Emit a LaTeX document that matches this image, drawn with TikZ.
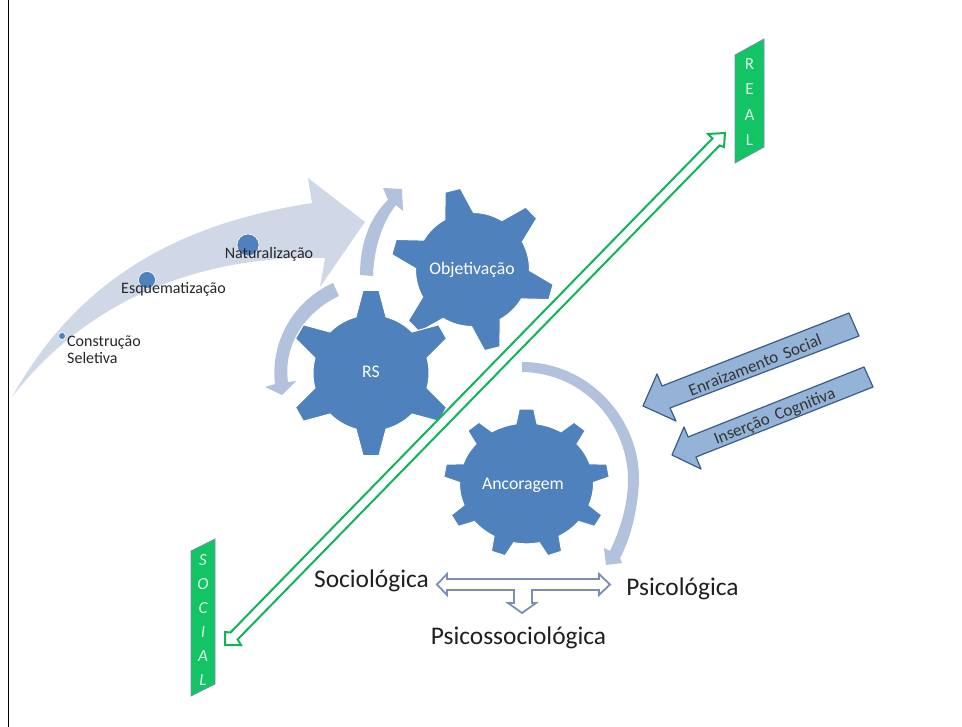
\documentclass[tikz,border=0pt]{standalone}
\usepackage{fontspec}
\setmainfont{Carlito}
\definecolor{gearblue}{HTML}{4F81BD}
\definecolor{palearrow}{HTML}{D0D8E8}
\definecolor{midarrow}{HTML}{B3C2DC}
\definecolor{bandgreen}{HTML}{12C463}
\definecolor{linegreen}{HTML}{10B558}
\definecolor{blockfill}{HTML}{95B3D7}
\definecolor{blockedge}{HTML}{385D8A}
\definecolor{tripleedge}{HTML}{7A8FB2}
\newcommand{\cogwheel}[9]{%
  \begin{scope}[shift={(#1,#2)},yscale=#3]
    \filldraw[fill=gearblue, draw=white, line width=1pt] ({#7-#8}:#4)
      \foreach \i [evaluate=\i as \t using #7+\i*360/#6] in {0,...,\numexpr#6-1\relax} {
        -- ({\t-#8}:#4) -- ({\t-#9}:#5) -- ({\t+#9}:#5) -- ({\t+#8}:#4)
        arc[start angle={\t+#8}, end angle={\t+360/#6-#8}, radius=#4]
      } -- cycle;
  \end{scope}}
\tikzset{
  smalltxt/.style={font=\fontsize{16}{17}\selectfont, text=black!85, inner sep=0pt},
  geartxt/.style={font=\fontsize{17.7}{19}\selectfont, text=white, inner sep=0pt},
  bigtxt/.style={font=\fontsize{25.4}{28}\selectfont, text=black!88, inner sep=0pt},
  blocktxt/.style={font=\fontsize{17}{19}\selectfont, text=black!80, inner sep=0pt, rotate=21.5},
  blockarrow/.style={fill=blockfill, draw=blockedge, line width=1.2pt, line join=round},
  band/.style={fill=bandgreen, draw=tripleedge, line width=0.8pt},
  bandtxt/.style={text=white!85!bandgreen, inner sep=0pt, align=center},
  dotmark/.style={circle, fill=gearblue, draw=white, line width=0.6pt, inner sep=0pt}
}
\begin{document}
\begin{tikzpicture}[x=1pt,y=-1pt]
\useasboundingbox[fill=white] (0,0) rectangle (962,727);
\draw[black, line width=1.2pt] (8.5,0) -- (8.5,727);
% large curved arrow
\fill[palearrow] (12,397) .. controls (75,285) and (170,225) .. (312,203) -- (308,178) -- (365,222) -- (320,287) -- (325,258) .. controls (215,255) and (95,290) .. cycle;
% process arrows
\fill[midarrow] (360,275) .. controls (360,240) and (372,215) .. (388,200) -- (383,188) -- (402,189) -- (403,211) -- (396,205) .. controls (384,220) and (374,245) .. (373,276) -- cycle;
\fill[midarrow] (333,283) .. controls (295,300) and (270,340) .. (275,384) -- (265,387) -- (282,395) -- (296,381) -- (288,382) .. controls (283,345) and (305,312) .. (339,296) -- cycle;
\fill[midarrow] (522,362) .. controls (590,362) and (640,420) .. (639,480) .. controls (638,510) and (630,540) .. (620,558) -- (622,563) -- (606,565) -- (604,548) -- (610,551) .. controls (620,530) and (628,505) .. (628,480) .. controls (628,425) and (585,373) .. (522,372) -- cycle;
% gears
\cogwheel{472.5}{269.5}{1}{57}{82}{6}{-104}{15}{5.5}
\cogwheel{371}{373}{1}{58}{83}{6}{-90}{15}{5.5}
\cogwheel{526.5}{483.5}{0.9}{67}{83}{9}{-90}{9}{5}
\node[geartxt] (obj) at (472,270) {Objetivação};
\node[geartxt] (rs) at (371,372) {RS};
\node[geartxt] (anc) at (523,485) {Ancoragem};
% dots and stage labels
\node[dotmark, minimum size=7pt] (d1) at (62,336) {};
\node[dotmark, minimum size=17pt] (d2) at (147,280) {};
\node[dotmark, minimum size=22pt] (d3) at (248,245) {};
\node[smalltxt, align=left, anchor=north west] (cs) at (67,336) {Construção\\Seletiva};
\node[smalltxt] (esq) at (173.5,289) {Esquematização};
\node[smalltxt] (nat) at (269,254) {Naturalização};
% green block double arrow
\draw[linegreen, fill=white, line width=2pt, line join=miter]
  (725,133) -- (708,134) -- (712.4,138.5) -- (230.4,632.5) -- (225,632) -- (225,645) -- (241,645) -- (237.6,639.5) -- (719.6,145.5) -- (724,147) -- cycle;
% bands
\draw[band] (735,55) -- (764,39) -- (764,147) -- (735,163) -- cycle;
\node[bandtxt, font=\fontsize{17}{25.5}\selectfont] (real) at (749.5,102) {R\\E\\A\\L};
\draw[band] (191,551) -- (215,539) -- (215,684) -- (191,696) -- cycle;
\node[bandtxt, font=\fontsize{17}{24}\selectfont\itshape] (social) at (203,620) {S\\O\\C\\I\\A\\L};
% block arrows
\draw[blockarrow] (643,406) -- (657,374) -- (662,386) -- (849,313) -- (859,336) -- (670,408) -- (676,421) -- cycle;
\node[blocktxt] (enr) at (755,365) {Enraizamento\, Social};
\draw[blockarrow] (672,455) -- (684,427) -- (688,437) -- (864,367) -- (873,387) -- (696,457) -- (701,469) -- cycle;
\node[blocktxt] (ins) at (775,417) {Inserção\, Cognitiva};
% triple arrow
\draw[tripleedge, fill=white, line width=1.8pt, line join=miter]
  (437,584.5) -- (447,574) -- (447,579) -- (599,579) -- (599,574) -- (610,584.5) -- (599,595) -- (599,590) -- (532,590) -- (532,603) -- (536,603) -- (522,613) -- (508,603) -- (514,603) -- (514,590) -- (447,590) -- (447,595) -- cycle;
\node[bigtxt] (soc) at (371.5,581) {Sociológica};
\node[bigtxt] (psi) at (682.5,589) {Psicológica};
\node[bigtxt] (pss) at (518.5,638) {Psicossociológica};
\end{tikzpicture}
\end{document}
